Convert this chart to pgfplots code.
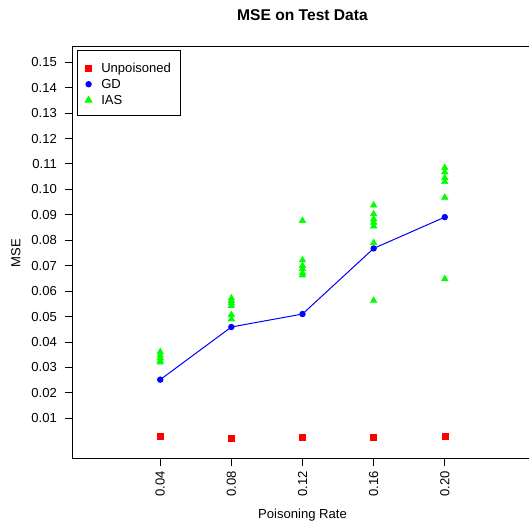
\documentclass[border=0pt]{standalone}
\usepackage{pgfplots}
\pgfplotsset{compat=1.18}
\usepackage{fontspec}
\setmainfont{Liberation Sans}
\definecolor{rred}{RGB}{255,0,0}
\definecolor{rblue}{RGB}{0,0,255}
\definecolor{rgreen}{RGB}{0,255,0}
\newcommand{\lf}{\fontsize{9.8}{11}\selectfont}
\begin{document}
\begin{tikzpicture}[x=0.75pt,y=0.75pt]
\begin{axis}[
  at={(54pt,51pt)}, anchor=south west, scale only axis,
  width=345.75pt, height=309pt,
  xmin=-0.24, xmax=6.24, ymin=-0.006, ymax=0.156,
  xtick={1,2,3,4,5}, xticklabels={0.04,0.08,0.12,0.16,0.20},
  ytick={0.01,0.02,0.03,0.04,0.05,0.06,0.07,0.08,0.09,0.10,0.11,0.12,0.13,0.14,0.15},
  yticklabels={0.01,0.02,0.03,0.04,0.05,0.06,0.07,0.08,0.09,0.10,0.11,0.12,0.13,0.14,0.15},
  tick align=outside, major tick length=5.6pt,
  xtick pos=bottom, ytick pos=left,
  tick style={black, line width=0.75pt},
  axis line style={line width=0.75pt},
  xticklabel style={rotate=90, anchor=east, font=\lf},
  yticklabel style={anchor=east, xshift=-2.25pt, font=\lf},
  xlabel={Poisoning Rate}, ylabel={MSE}, title={MSE on Test Data},
  xlabel style={at={(axis description cs:0.5,-0.136)}, anchor=center, font=\lf},
  ylabel style={at={(axis description cs:-0.1215,0.5)}, anchor=center, rotate=0, font=\lf},
  title style={at={(axis description cs:0.5,1.058)}, anchor=center, font=\fontsize{11.7}{13}\selectfont\bfseries},
  legend style={at={(axis description cs:0.0108,0.9927)}, anchor=north west,
    draw=black, line width=0.75pt, font=\lf,
    inner xsep=5.9pt, inner ysep=6.4pt, row sep=0pt,
    nodes={inner sep=1.5pt, text height=8.85pt, text depth=0.15pt}},
  legend cell align=left,
  legend style={cells={anchor=base west}},
  legend image code/.code={\draw[#1] plot coordinates {(0pt,3.45pt)};},
]
\addlegendimage{only marks, mark=square*, mark size=2.25pt, color=rred}
\addlegendentry{\hspace{5.6pt}Unpoisoned}
\addlegendimage{only marks, mark=*, mark size=2pt, color=rblue}
\addlegendentry{\hspace{5.6pt}GD}
\addlegendimage{only marks, mark=triangle*, mark size=2.8pt, color=rgreen}
\addlegendentry{\hspace{5.6pt}IAS}
% Unpoisoned
\addplot[only marks, mark=square*, mark size=2.25pt, color=rred, forget plot] coordinates {
(1,0.0029) (2,0.0022) (3,0.0026) (4,0.0026) (5,0.0029)};
% IAS
\addplot[only marks, mark=triangle*, mark size=2.8pt, color=rgreen, forget plot] coordinates {
(1,0.0361) (1,0.0348) (1,0.0337) (1,0.0327) (1,0.0320)
(2,0.0572) (2,0.0562) (2,0.0553) (2,0.0543) (2,0.0507) (2,0.0490)
(3,0.0877) (3,0.0722) (3,0.0700) (3,0.0688) (3,0.0672) (3,0.0663)
(4,0.0938) (4,0.0903) (4,0.0883) (4,0.0870) (4,0.0855) (4,0.0790) (4,0.0563)
(5,0.1085) (5,0.1068) (5,0.1045) (5,0.1030) (5,0.0968) (5,0.0648)};
% GD
\addplot[color=rblue, line width=0.75pt, mark=*, mark size=2pt, forget plot] coordinates {
(1,0.0252) (2,0.0459) (3,0.0510) (4,0.0768) (5,0.0891)};
\end{axis}
\pgfresetboundingbox
\path[use as bounding box] (0,0) rectangle (529,527);
\end{tikzpicture}
\end{document}
